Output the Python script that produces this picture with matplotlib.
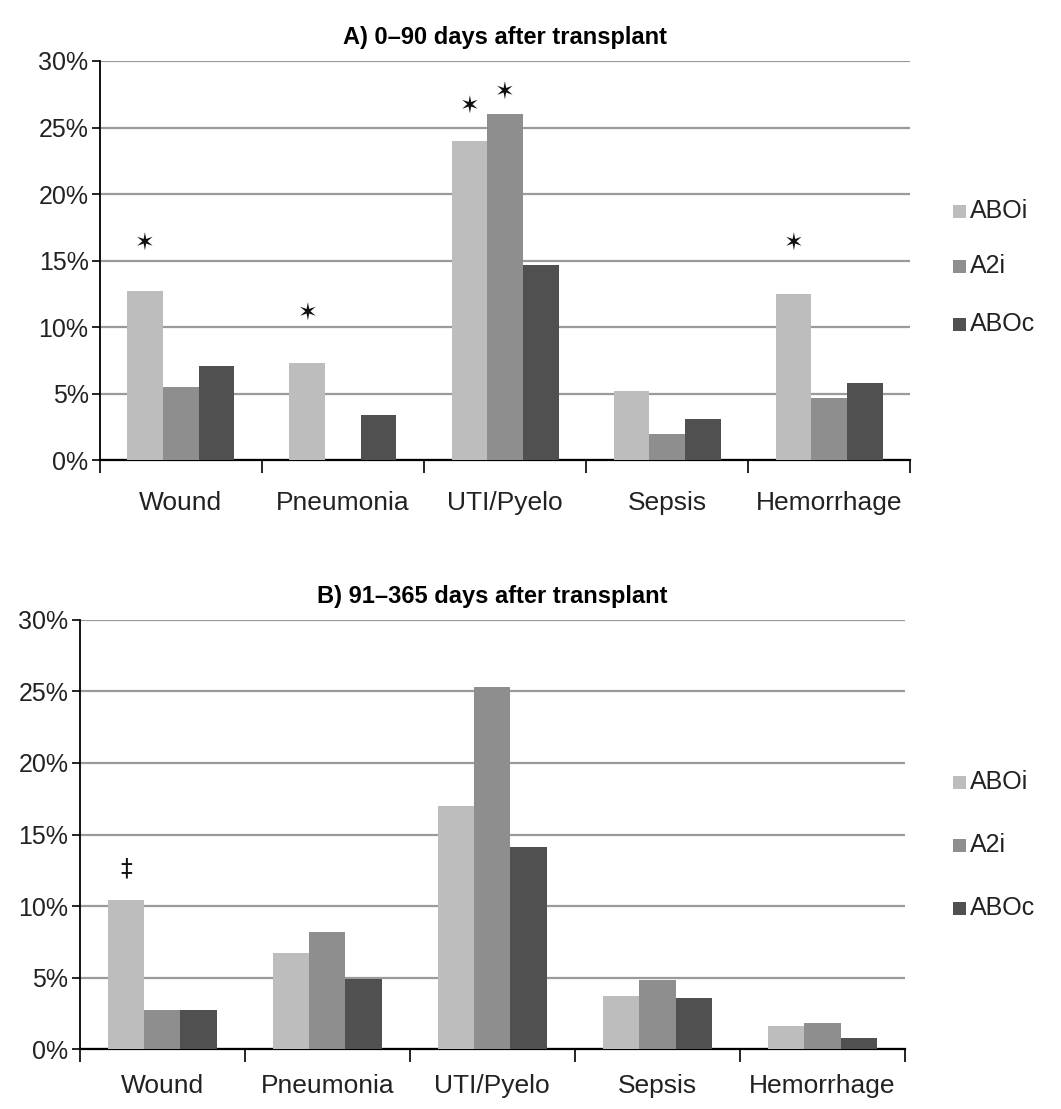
import matplotlib
matplotlib.use("Agg")
import matplotlib.pyplot as plt
import numpy as np

plt.rcParams['font.family'] = ['Liberation Sans', 'DejaVu Sans']

categories = ["Wound", "Pneumonia", "UTI/Pyelo", "Sepsis", "Hemorrhage"]
series_names = ["ABOi", "A2i", "ABOc"]
colors = ["#bdbdbd", "#8e8e8e", "#505050"]

a_aboi = [12.7, 7.3, 24.0, 5.2, 12.5]
a_a2i = [5.5, 0.0, 26.0, 2.0, 4.7]
a_aboc = [7.1, 3.4, 14.7, 3.1, 5.8]

b_aboi = [10.4, 6.7, 17.0, 3.7, 1.6]
b_a2i = [2.7, 8.2, 25.3, 4.8, 1.8]
b_aboc = [2.7, 4.9, 14.1, 3.6, 0.8]

titles = ["A) 0\u201390 days after transplant", "B) 91\u2013365 days after transplant"]
yticks = [0, 5, 10, 15, 20, 25, 30]

# annotations: (category index, series index, y value, symbol)
a_marks = [(0, 0, 16.3, "\u2736"), (1, 0, 11.0, "\u2736"), (2, 0, 26.6, "\u2736"),
           (2, 1, 27.6, "\u2736"), (4, 0, 16.3, "\u2736")]
b_marks = [(0, 0, 12.6, "\u2021")]

fig = plt.figure(figsize=(10.61, 11.09), dpi=100)
fig.patch.set_facecolor("white")

axes_rects = [[0.094, 0.585, 0.764, 0.36], [0.075, 0.054, 0.778, 0.387]]
data_sets = [[a_aboi, a_a2i, a_aboc], [b_aboi, b_a2i, b_aboc]]
marks_sets = [a_marks, b_marks]
legend_y = [[0.81, 0.76, 0.708], [0.295, 0.238, 0.181]]
xpads = [22, 18]

bw = 0.22
x = np.arange(len(categories))
for k in range(2):
    ax = fig.add_axes(axes_rects[k])
    for s, vals in enumerate(data_sets[k]):
        ax.bar(x + (s - 1) * bw, vals, width=bw, color=colors[s], edgecolor="none",
               zorder=3, label=series_names[s])
    ax.set_xlim(-0.5, len(categories) - 0.5)
    ax.set_ylim(0, 30)
    ax.set_yticks(yticks)
    ax.set_yticklabels([f"{v}%" for v in yticks], fontsize=18, color="#222222")
    ax.yaxis.grid(True, color="#9a9a9a", linewidth=1.6, zorder=0)
    ax.set_xticks(x)
    ax.set_xticklabels(categories, fontsize=19, color="#222222")
    ax.set_xticks(np.arange(-0.5, len(categories)), minor=True)
    ax.tick_params(axis="x", which="major", length=0, pad=xpads[k])
    ax.tick_params(axis="x", which="minor", length=9, width=1.2, direction="out")
    ax.tick_params(axis="y", length=6, width=1.2, direction="out", pad=2)
    for sp in ["top", "right"]:
        ax.spines[sp].set_visible(False)
    ax.spines["left"].set_linewidth(1.3)
    ax.spines["bottom"].set_linewidth(1.6)
    ax.set_title(titles[k], fontsize=17, fontweight="bold", pad=12)
    for (ci, si, yv, sym) in marks_sets[k]:
        ax.text(ci + (si - 1) * bw, yv, sym, ha="center", va="center",
                fontsize=17, color="#111111", family=["DejaVu Sans"])
    for s in range(3):
        fig.patches.append(plt.Rectangle((0.898, legend_y[k][s] - 0.0065), 0.012, 0.012,
                                         transform=fig.transFigure, facecolor=colors[s],
                                         edgecolor="none"))
        fig.text(0.914, legend_y[k][s], series_names[s], fontsize=18, va="center",
                 ha="left", color="#222222")

fig.savefig("out.png", dpi=100, facecolor="white")
